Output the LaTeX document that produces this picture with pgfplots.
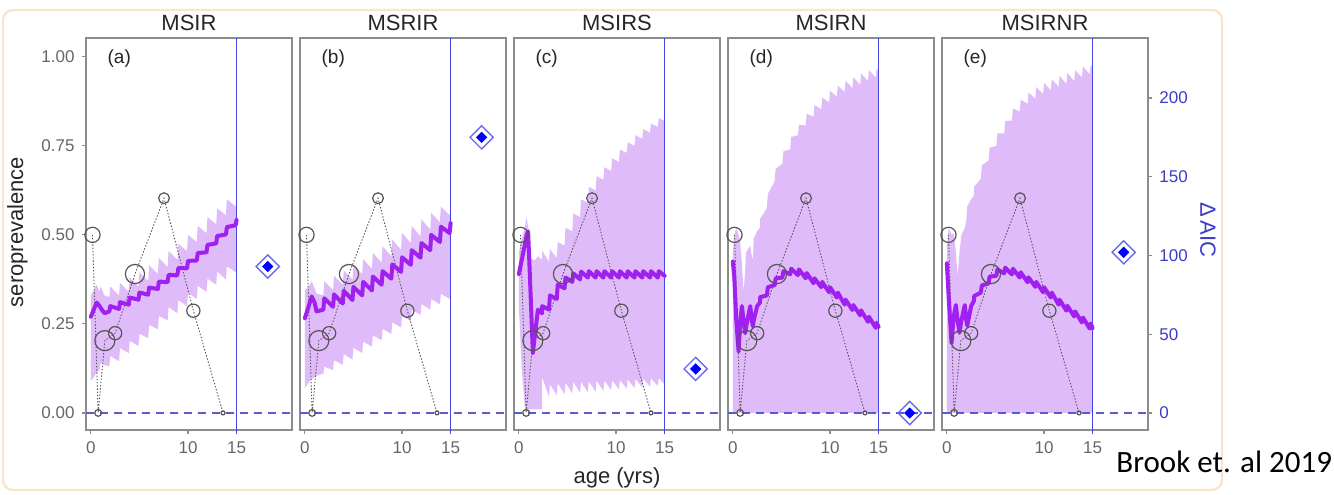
\documentclass[border=0pt]{standalone}
\usepackage{fontspec}
\setmainfont{Liberation Sans}
\newfontfamily\calib{Carlito}
\usepackage{pgfplots}
\usepackage{pgfplotstable}
\pgfplotsset{compat=1.18}
\usepgfplotslibrary{fillbetween}

\definecolor{band}{HTML}{E0BBFA}
\definecolor{meanc}{HTML}{A020F0}
\definecolor{frameg}{HTML}{8C8C8C}
\definecolor{tickg}{HTML}{666666}
\definecolor{obsg}{HTML}{555555}
\definecolor{vblue}{HTML}{4646E6}
\definecolor{dblue}{HTML}{5A5AD2}
\definecolor{aicblue}{HTML}{3C3CC8}
\definecolor{peach}{HTML}{FAE4CD}

% observed seroprevalence, r = circle radius (pt)
\pgfplotstableread{
x     y     r
0.17  0.500 3.8
0.75  0.000 1.7
1.44  0.203 5.0
2.50  0.224 3.3
4.54  0.390 4.8
7.53  0.603 2.7
10.55 0.287 3.3
13.60 0.000 1.0
}\obs

% model fits: mean and interval
\pgfplotstableread{
x    m     lo    hi
0.0  0.270 0.090 0.330
0.3  0.290 0.100 0.345
0.6  0.310 0.115 0.360
0.9  0.300 0.120 0.340
1.0  0.295 0.140 0.355
1.4  0.280 0.135 0.330
1.9  0.285 0.130 0.325
2.0  0.300 0.160 0.355
2.9  0.292 0.145 0.330
3.0  0.311 0.182 0.365
3.9  0.304 0.168 0.340
4.0  0.324 0.202 0.380
4.9  0.318 0.188 0.355
5.0  0.338 0.222 0.395
5.9  0.332 0.210 0.370
6.0  0.352 0.247 0.415
6.9  0.348 0.235 0.390
7.0  0.369 0.272 0.435
7.9  0.367 0.260 0.410
8.0  0.388 0.297 0.455
8.9  0.386 0.280 0.430
9.0  0.407 0.317 0.475
9.9  0.406 0.300 0.455
10.0 0.427 0.337 0.500
10.9 0.428 0.320 0.480
11.0 0.449 0.357 0.525
11.9 0.451 0.340 0.505
12.0 0.472 0.377 0.550
12.9 0.476 0.360 0.530
13.0 0.497 0.397 0.575
13.9 0.501 0.375 0.555
14.0 0.522 0.412 0.600
14.9 0.527 0.395 0.580
15.0 0.542 0.420 0.610
}\tabA

\pgfplotstableread{
x    m     lo    hi
0.0  0.266 0.070 0.345
0.4  0.300 0.085 0.355
0.7  0.327 0.095 0.370
1.0  0.310 0.100 0.350
1.2  0.285 0.105 0.335
1.9  0.290 0.110 0.330
2.0  0.322 0.130 0.370
2.9  0.298 0.120 0.345
3.0  0.333 0.148 0.385
3.9  0.307 0.135 0.360
4.0  0.343 0.165 0.400
4.9  0.317 0.150 0.375
5.0  0.354 0.183 0.415
5.9  0.330 0.168 0.390
6.0  0.368 0.200 0.432
6.9  0.344 0.186 0.405
7.0  0.383 0.218 0.450
7.9  0.360 0.204 0.422
8.0  0.398 0.236 0.468
8.9  0.377 0.222 0.440
9.0  0.417 0.255 0.487
9.9  0.396 0.240 0.458
10.0 0.437 0.273 0.506
10.9 0.416 0.258 0.477
11.0 0.457 0.290 0.525
11.9 0.436 0.275 0.496
12.0 0.477 0.306 0.544
12.9 0.457 0.290 0.515
13.0 0.500 0.320 0.562
13.9 0.480 0.305 0.535
14.0 0.523 0.335 0.580
14.9 0.505 0.320 0.555
15.0 0.533 0.350 0.598
}\tabB

\pgfplotstableread{
x    m     lo    hi
0.0  0.390 0.300 0.450
0.3  0.430 0.120 0.490
0.6  0.470 0.020 0.520
0.8  0.500 0.010 0.550
0.95 0.510 0.010 0.520
1.1  0.410 0.010 0.440
1.44 0.168 0.010 0.430
1.7  0.230 0.010 0.430
1.96 0.290 0.010 0.440
2.39 0.280 0.010 0.430
2.4  0.300 0.100 0.455
3.1  0.290 0.045 0.425
3.2  0.330 0.080 0.460
3.9  0.320 0.050 0.435
4.0  0.360 0.083 0.480
4.7  0.350 0.053 0.470
4.8  0.380 0.085 0.520
5.5  0.368 0.055 0.510
5.6  0.392 0.087 0.560
6.3  0.375 0.057 0.550
6.4  0.397 0.088 0.600
7.1  0.380 0.058 0.590
7.2  0.398 0.089 0.635
7.9  0.380 0.060 0.625
8.0  0.398 0.090 0.665
8.7  0.380 0.062 0.655
8.8  0.398 0.091 0.690
9.5  0.380 0.064 0.680
9.6  0.398 0.092 0.715
10.3 0.380 0.066 0.705
10.4 0.398 0.093 0.740
11.1 0.380 0.068 0.730
11.2 0.398 0.094 0.760
11.9 0.380 0.070 0.750
12.0 0.398 0.095 0.780
12.7 0.380 0.072 0.770
12.8 0.398 0.096 0.797
13.5 0.380 0.074 0.787
13.6 0.398 0.097 0.813
14.3 0.380 0.076 0.803
14.4 0.398 0.098 0.828
15.0 0.385 0.080 0.820
}\tabC

\pgfplotstableread{
x    m     lo    hi
0.0  0.425 0.000 0.450
0.15 0.380 0.000 0.500
0.35 0.260 0.000 0.520
0.59 0.172 0.000 0.500
0.75 0.250 0.000 0.480
0.93 0.300 0.000 0.420
1.1  0.260 0.000 0.340
1.27 0.224 0.000 0.400
1.35 0.240 0.000 0.450
1.79 0.300 0.000 0.470
1.95 0.260 0.000 0.440
2.06 0.243 0.000 0.430
2.15 0.260 0.000 0.490
2.5  0.300 0.000 0.510
2.79 0.310 0.000 0.520
2.8  0.325 0.000 0.545
3.5  0.330 0.000 0.575
3.6  0.353 0.000 0.615
4.3  0.359 0.000 0.650
4.4  0.378 0.000 0.685
5.1  0.380 0.000 0.700
5.2  0.398 0.000 0.735
5.9  0.389 0.000 0.740
6.0  0.405 0.000 0.775
6.7  0.387 0.000 0.780
6.8  0.403 0.000 0.810
7.5  0.378 0.000 0.807
7.6  0.393 0.000 0.840
8.3  0.364 0.000 0.832
8.4  0.378 0.000 0.865
9.1  0.353 0.000 0.853
9.2  0.368 0.000 0.885
9.9  0.339 0.000 0.873
10.0 0.353 0.000 0.905
10.7 0.324 0.000 0.888
10.8 0.338 0.000 0.920
11.5 0.304 0.000 0.901
11.6 0.318 0.000 0.933
12.3 0.289 0.000 0.912
12.4 0.303 0.000 0.943
13.1 0.274 0.000 0.922
13.2 0.288 0.000 0.953
13.9 0.256 0.000 0.932
14.0 0.270 0.000 0.963
14.7 0.239 0.000 0.942
14.8 0.253 0.000 0.968
15.0 0.242 0.000 0.960
}\tabD

\pgfplotstableread{
x    m     lo    hi
0.0  0.420 0.000 0.470
0.2  0.320 0.000 0.520
0.48 0.196 0.000 0.500
0.7  0.270 0.000 0.505
0.93 0.303 0.000 0.450
1.1  0.260 0.000 0.383
1.3  0.225 0.000 0.450
1.5  0.260 0.000 0.500
1.85 0.303 0.000 0.520
2.0  0.260 0.000 0.540
2.1  0.245 0.000 0.580
2.5  0.300 0.000 0.600
2.79 0.315 0.000 0.610
2.8  0.328 0.000 0.635
3.5  0.338 0.000 0.658
3.6  0.358 0.000 0.695
4.3  0.364 0.000 0.709
4.4  0.383 0.000 0.745
5.1  0.385 0.000 0.750
5.2  0.403 0.000 0.785
5.9  0.392 0.000 0.785
6.0  0.408 0.000 0.820
6.7  0.389 0.000 0.821
6.8  0.405 0.000 0.855
7.5  0.380 0.000 0.847
7.6  0.395 0.000 0.880
8.3  0.367 0.000 0.868
8.4  0.381 0.000 0.900
9.1  0.354 0.000 0.883
9.2  0.368 0.000 0.915
9.9  0.339 0.000 0.896
10.0 0.353 0.000 0.927
10.7 0.324 0.000 0.906
10.8 0.338 0.000 0.937
11.5 0.304 0.000 0.916
11.6 0.318 0.000 0.947
12.3 0.287 0.000 0.924
12.4 0.301 0.000 0.955
13.1 0.271 0.000 0.932
13.2 0.285 0.000 0.963
13.9 0.254 0.000 0.942
14.0 0.268 0.000 0.973
14.7 0.237 0.000 0.951
14.8 0.251 0.000 0.978
15.0 0.238 0.000 0.970
}\tabE

\pgfplotsset{
  panel/.style={scale only axis, width=103pt, height=196pt, anchor=south west,
    xmin=-0.5, xmax=20.7, ymin=-0.048, ymax=1.053, clip=false,
    axis line style={frameg, line width=0.6pt},
    tick style={frameg, line width=0.6pt}, tick align=outside, major tick length=2.2pt,
    xtick={0,10,15}, xtick pos=bottom, ytick=\empty,
    ticklabel style={font=\fontsize{8.5}{9}\selectfont, text=tickg},
    /pgf/number format/assume math mode=true,
    every axis title shift=0pt,
    title style={at={(0.5,1)}, anchor=base, yshift=3.6pt,
      font=\fontsize{11}{12}\selectfont, text=black!85}},
  aic/.style={scale only axis, width=103pt, height=196pt, anchor=south west,
    xmin=-0.5, xmax=20.7, ymin=-10.8, ymax=238.1, clip=false,
    axis line style={draw=none}, xtick=\empty, ytick=\empty},
}

% #1 left edge, #2 title, #3 letter, #4 table, #5 Delta AIC, #6 extra axis keys
\newcommand{\panel}[6]{%
\begin{axis}[panel, at={(#1,32pt)}, title={#2}, #6]
  \addplot[draw=none, name path=hi#3] table[x=x, y=hi]{#4};
  \addplot[draw=none, name path=lo#3] table[x=x, y=lo]{#4};
  \addplot[band, draw=none] fill between[of=hi#3 and lo#3];
  \addplot[dblue, line width=0.7pt, dash pattern=on 4pt off 3pt] coordinates {(-0.5,0) (20.7,0)};
  \addplot[vblue, line width=0.7pt] coordinates {(15,-0.06) (15,1.053)};
  \addplot[obsg, line width=0.45pt, dash pattern=on 0.7pt off 0.9pt] table[x=x, y=y]{\obs};
  \addplot[meanc, line width=2pt, line join=round, line cap=round] table[x=x, y=m]{#4};
  \addplot[scatter, only marks, mark=o, line width=0.6pt,
    scatter/use mapped color={draw=obsg},
    visualization depends on={\thisrow{r} \as \rad},
    scatter/@pre marker code/.append style={/tikz/mark size=\rad}]
    table[x=x, y=y, meta=r]{\obs};
  \node[anchor=west, font=\fontsize{9.5}{10}\selectfont, text=black!85] at (axis cs:1.0,0.995) {(#3)};
\end{axis}
\begin{axis}[aic, at={(#1,32pt)}]
  \addplot[only marks, mark=square, mark size=4.1pt,
    mark options={rotate=45, draw=vblue!80, line width=0.7pt, fill=white}] coordinates {(18.2,#5)};
  \addplot[only marks, mark=square*, mark size=1.8pt,
    mark options={rotate=45, draw=blue, fill=blue}] coordinates {(18.2,#5)};
\end{axis}}

\begin{document}
\begin{tikzpicture}
\path (0,0) rectangle (667pt,247pt);
\draw[peach, line width=1.2pt, rounded corners=5pt] (1.5pt,2pt) rectangle (611pt,242pt);

\panel{43pt}{MSIR}{a}{\tabA}{93}{ytick={0,0.25,0.5,0.75,1}, yticklabels={0.00,0.25,0.50,0.75,1.00}, ytick pos=left}
\panel{150pt}{MSRIR}{b}{\tabB}{175}{}
\panel{257pt}{MSIRS}{c}{\tabC}{28}{}
\panel{364pt}{MSIRN}{d}{\tabD}{0}{}
\panel{471pt}{MSIRNR}{e}{\tabE}{102}{}

% right axis for Delta AIC
\begin{axis}[aic, at={(471pt,32pt)}, ytick={0,50,100,150,200}, ytick pos=right,
  tick align=outside, major tick length=2.2pt, tick style={frameg, line width=0.6pt},
  yticklabel style={font=\fontsize{8.5}{9}\selectfont, text=aicblue},
  /pgf/number format/assume math mode=true]
  \addplot[draw=none] coordinates {(0,0)};
\end{axis}

\node[rotate=90, font=\fontsize{11}{12}\selectfont, text=black!85] at (8.75pt,131pt) {seroprevalence};
\node[anchor=base, font=\fontsize{11}{12}\selectfont, text=black!85] at (308.5pt,5.3pt) {age (yrs)};
\node[rotate=-90, font=\fontsize{11}{12}\selectfont, text=aicblue] at (604pt,132pt) {Δ\,AIC};
\node[anchor=base west, inner sep=0pt, font=\calib\fontsize{15.5}{17}\selectfont] at (558pt,10.5pt) {Brook et. al 2019};
\end{tikzpicture}
\end{document}
